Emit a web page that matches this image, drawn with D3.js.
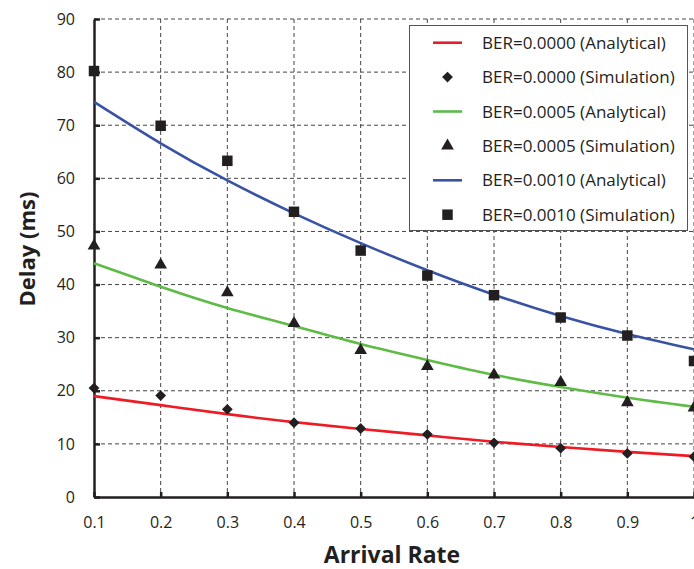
<!DOCTYPE html>
<html><head><meta charset="utf-8">
<script src="https://cdn.jsdelivr.net/npm/d3@7"></script>
<style>body{margin:0;background:#fff;overflow:hidden}svg{display:block}text{font-family:"Open Sans",sans-serif;fill:#231f20}</style>
</head><body><svg id="c" width="694" height="569"></svg>
<script>
const arrivalRates = [0.1,0.2,0.3,0.4,0.5,0.6,0.7,0.8,0.9,1.0];
const xTickLabels = ["0.1","0.2","0.3","0.4","0.5","0.6","0.7","0.8","0.9","1"];
const yTicks = [0,10,20,30,40,50,60,70,80,90];
const ber0Analytical = [19.0,17.3,15.6,14.1,12.8,11.6,10.4,9.4,8.5,7.7];
const ber0Simulation = [20.5,19.1,16.5,14.0,12.9,11.8,10.2,9.2,8.2,7.6];
const ber5Analytical = [44.0,39.6,35.6,32.2,28.8,25.8,23.0,20.7,18.7,17.0];
const ber5Simulation = [47.3,43.7,38.5,32.7,27.6,24.6,23.0,21.6,17.8,16.8];
const ber10Analytical = [74.4,66.6,59.6,53.4,47.8,42.7,38.1,34.1,30.7,27.8];
const ber10Simulation = [80.2,69.9,63.3,53.7,46.4,41.7,38.0,33.8,30.4,25.6];
const legendLabels = ["BER=0.0000 (Analytical)","BER=0.0000 (Simulation)","BER=0.0005 (Analytical)","BER=0.0005 (Simulation)","BER=0.0010 (Analytical)","BER=0.0010 (Simulation)"];

const svg = d3.select("#c");
const L=94, R=694, T=19, B=497;
const x = d3.scaleLinear().domain([0.1,1.0]).range([L,R]);
const y = d3.scaleLinear().domain([0,90]).range([B,T]);
const ink="#231f20";

// grid
const g = svg.append("g");
g.selectAll(".vg").data(arrivalRates.slice(1)).join("line")
 .attr("x1",d=>x(d)).attr("x2",d=>x(d)).attr("y1",T).attr("y2",B)
 .attr("stroke","#444").attr("stroke-width",1).attr("stroke-dasharray","4,3");
g.selectAll(".hg").data(yTicks.slice(1)).join("line")
 .attr("x1",L).attr("x2",R).attr("y1",d=>y(d)).attr("y2",d=>y(d))
 .attr("stroke","#444").attr("stroke-width",1).attr("stroke-dasharray","4,3");

// axes
const xAxis = d3.axisBottom(x).tickValues(arrivalRates).tickFormat((d,i)=>xTickLabels[i]).tickSizeInner(-5).tickSizeOuter(0).tickPadding(20);
const ax = svg.append("g").attr("transform",`translate(0,${B})`).call(xAxis);
ax.attr("font-size",16).attr("font-family","Open Sans");
ax.select(".domain").attr("stroke",ink).attr("stroke-width",2.5);
ax.selectAll(".tick line").attr("stroke",ink).attr("stroke-width",2.5);
ax.selectAll("text").attr("fill","#231f20");

const yAxis = d3.axisLeft(y).tickValues(yTicks).tickSizeInner(-6).tickSizeOuter(0).tickPadding(19);
const ay = svg.append("g").attr("transform",`translate(${L},0)`).call(yAxis);
ay.attr("font-size",16).attr("font-family","Open Sans");
ay.select(".domain").attr("stroke",ink).attr("stroke-width",2.5);
ay.selectAll(".tick line").attr("stroke",ink).attr("stroke-width",2.5);
ay.selectAll("text").attr("fill","#231f20");

// titles
svg.append("text").attr("x",(L+R)/2-2).attr("y",563).attr("text-anchor","middle")
 .attr("font-size",23).attr("font-weight","bold").text("Arrival Rate");
svg.append("text").attr("transform",`translate(35,${249}) rotate(-90)`).attr("text-anchor","middle")
 .attr("font-size",22).attr("font-weight","bold").text("Delay (ms)");

// series
const colors = {r:"#ed1c24",g:"#5dbb46",b:"#3953a4"};
const line = d3.line().x((d,i)=>x(arrivalRates[i])).y(d=>y(d)).curve(d3.curveNatural);
[[ber0Analytical,colors.r],[ber5Analytical,colors.g],[ber10Analytical,colors.b]].forEach(([data,c])=>{
  svg.append("path").datum(data).attr("d",line).attr("fill","none").attr("stroke",c).attr("stroke-width",2.6);
});
const sym = {
  diamond: d3.symbol().type(d3.symbolDiamond2).size(75),
  triangle: d3.symbol().type(d3.symbolTriangle).size(70),
  square: d3.symbol().type(d3.symbolSquare).size(110)
};
function markers(data,s){
  svg.append("g").selectAll("path").data(data).join("path")
   .attr("transform",(d,i)=>`translate(${x(arrivalRates[i])},${y(d)})`)
   .attr("d",s).attr("fill",ink);
}
markers(ber0Simulation,sym.diamond);
markers(ber5Simulation,sym.triangle);
markers(ber10Simulation,sym.square);

// legend
const lg = svg.append("g");
lg.append("rect").attr("x",409.5).attr("y",25.5).attr("width",278).attr("height",205)
 .attr("fill","#fff").attr("stroke","#555").attr("stroke-width",1);
const items = [
 {t:"line",c:colors.r},{t:"m",s:sym.diamond},{t:"line",c:colors.g},{t:"m",s:sym.triangle},{t:"line",c:colors.b},{t:"m",s:sym.square}
];
items.forEach((it,i)=>{
  const cy = 42.7 + i*34.4;
  if(it.t==="line") lg.append("line").attr("x1",433).attr("x2",462).attr("y1",cy).attr("y2",cy).attr("stroke",it.c).attr("stroke-width",2.6);
  else lg.append("path").attr("transform",`translate(447.5,${cy})`).attr("d",it.s).attr("fill",ink);
  lg.append("text").attr("x",482).attr("y",cy+6).attr("font-size",17).text(legendLabels[i]);
});
</script></body></html>
